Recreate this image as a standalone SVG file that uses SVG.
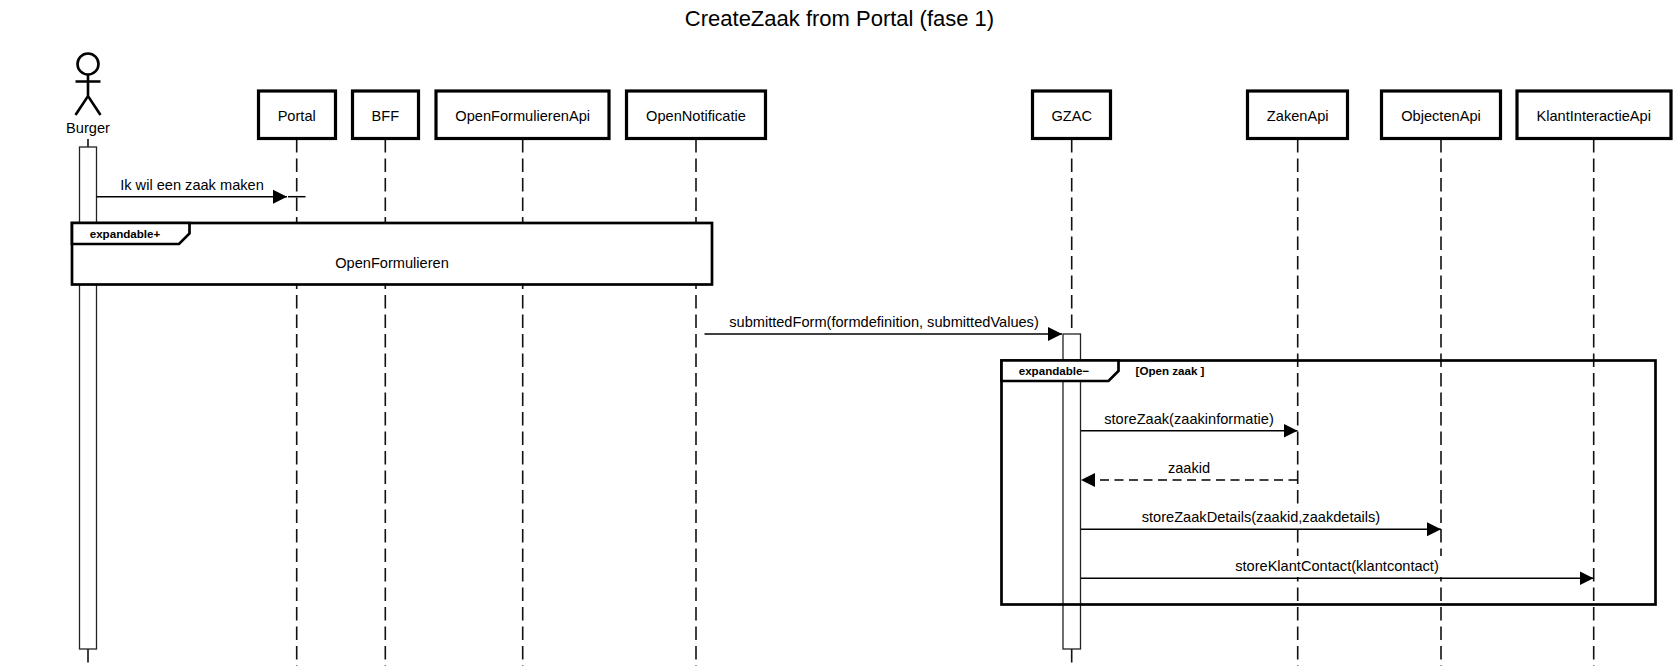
<svg xmlns="http://www.w3.org/2000/svg" width="1679" height="666" viewBox="0 0 1679 666">
<style>
text{font-family:"Liberation Sans",Arial,sans-serif;font-size:14.6px;fill:#000;text-anchor:middle}
.title{font-size:22px}
.b{font-weight:bold;font-size:11.6px}
.box{fill:#fff;stroke:#000;stroke-width:3.2}
.life{stroke:#111;stroke-width:1.6;stroke-dasharray:13.5 6;fill:none}
.act{fill:#fff;stroke:#222;stroke-width:1.3}
.msg{stroke:#000;stroke-width:1.5;fill:none}
.ret{stroke-dasharray:9 5.5}
.frame{stroke:#000;stroke-width:2.7}
.actor{fill:none;stroke:#000;stroke-width:2.6}
.bg{fill:#fff}
</style>
<defs>
<marker id="arrow" markerUnits="userSpaceOnUse" markerWidth="15" markerHeight="15" refX="14" refY="7.5" orient="auto"><path d="M0 0.5L14 7.5L0 14.500Z" fill="#000"/></marker>
</defs>
<rect width="1679" height="666" fill="#fff"/>
<text class="title" x="839.500" y="26">CreateZaak from Portal (fase 1)</text>
<g id="lifelines">
<path class="life" d="M88 139V147M88 649V666"/>
<path class="life" d="M296.700 139V666"/>
<path class="life" d="M385.300 139V666"/>
<path class="life" d="M522.700 139V666"/>
<path class="life" d="M696 139V666"/>
<path class="life" d="M1071.700 139V333M1071.700 649V666"/>
<path class="life" d="M1297.700 139V666"/>
<path class="life" d="M1441 139V666"/>
<path class="life" d="M1593.700 139V666"/>
</g>
<g id="activation-burger"><rect class="act" x="79.500" y="147" width="17" height="502"/></g>
<g id="activation-gzac"><rect class="act" x="1063" y="334" width="17.500" height="315"/></g>
<g id="burger">
<circle class="actor" cx="88" cy="64" r="10.500"/>
<path class="actor" d="M88 74.500V96M75.500 81.500H100.500M75.500 115L88 96L100.500 115"/>
<text x="88" y="133">Burger</text>
</g>
<g id="portal"><rect class="box" x="258.500" y="91" width="77" height="47.500"/><text x="296.700" y="121">Portal</text></g>
<g id="bff"><rect class="box" x="352.500" y="91" width="66" height="47.500"/><text x="385.300" y="121">BFF</text></g>
<g id="openformulierenapi"><rect class="box" x="436" y="91" width="173" height="47.500"/><text x="522.700" y="121">OpenFormulierenApi</text></g>
<g id="opennotificatie"><rect class="box" x="626.500" y="91" width="139" height="47.500"/><text x="696" y="121">OpenNotificatie</text></g>
<g id="gzac"><rect class="box" x="1032.500" y="91" width="78" height="47.500"/><text x="1071.700" y="121">GZAC</text></g>
<g id="zakenapi"><rect class="box" x="1247.500" y="91" width="100" height="47.500"/><text x="1297.700" y="121">ZakenApi</text></g>
<g id="objectenapi"><rect class="box" x="1381.500" y="91" width="119" height="47.500"/><text x="1441" y="121">ObjectenApi</text></g>
<g id="klantinteractieapi"><rect class="box" x="1517" y="91" width="154" height="47.500"/><text x="1593.700" y="121">KlantInteractieApi</text></g>
<g id="frame-openformulieren">
<rect class="frame" x="72" y="223" width="640" height="61.500" fill="#fff"/>
<path class="frame" fill="#fff" d="M72 223V244H179L189.500 233.500V223Z"/>
<text class="b" x="125" y="237.500">expandable+</text>
<text x="392" y="268">OpenFormulieren</text>
</g>
<g id="frame-open-zaak">
<rect class="frame" x="1001.500" y="360.500" width="654" height="244" fill="none"/>
<path class="frame" fill="#fff" d="M1001.500 360.500V381H1108.500L1118.500 371V360.500Z"/>
<rect class="bg" x="1123" y="363" width="95" height="17"/>
<text class="b" x="1054" y="374.500">expandable−</text>
<text class="b" x="1170" y="374.500">[Open zaak ]</text>
</g>
<g id="labels">
<rect class="bg" x="1141" y="507" width="240" height="21"/>
<rect class="bg" x="1234" y="556" width="209" height="21"/>
<text x="192" y="190">Ik wil een zaak maken</text>
<text x="884" y="327">submittedForm(formdefinition, submittedValues)</text>
<text x="1189" y="424">storeZaak(zaakinformatie)</text>
<text x="1189" y="473">zaakid</text>
<text x="1261" y="522">storeZaakDetails(zaakid,zaakdetails)</text>
<text x="1337" y="571">storeKlantContact(klantcontact)</text>
</g>
<g id="connectors">
<path class="msg" marker-end="url(#arrow)" d="M96.500 196.700H287"/>
<path class="msg" d="M288 196.700H305.500"/>
<path class="msg" marker-end="url(#arrow)" d="M704.500 334H1062"/>
<path class="msg" marker-end="url(#arrow)" d="M1081 430.700H1297.500"/>
<path class="msg ret" marker-end="url(#arrow)" d="M1297.500 480H1081"/>
<path class="msg" marker-end="url(#arrow)" d="M1081 529.300H1441"/>
<path class="msg" marker-end="url(#arrow)" d="M1081 578.300H1593.500"/>
</g>
</svg>
